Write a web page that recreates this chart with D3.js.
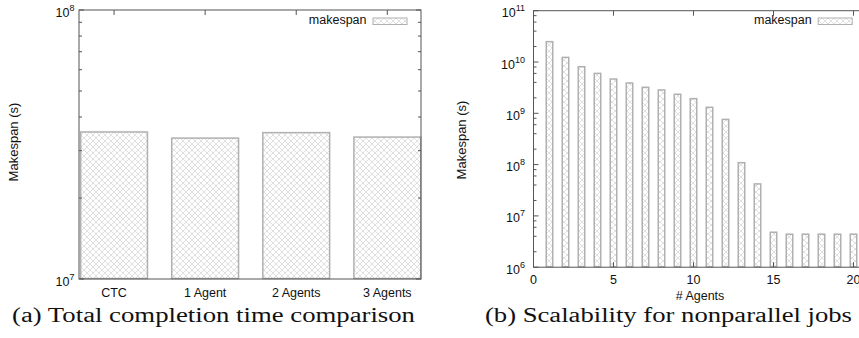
<!DOCTYPE html>
<html>
<head>
<meta charset="utf-8">
<script src="https://cdn.jsdelivr.net/npm/d3@7"></script>
<style>
  body { margin: 0; background: #fff; }
  svg { display: block; }
</style>
</head>
<body>
<svg id="chart" width="859" height="338"></svg>
<script>
// (a) total completion time
const catsA = ['CTC', '1 Agent', '2 Agents', '3 Agents'];
const makespanA = [3.52e7, 3.34e7, 3.50e7, 3.37e7];
const yTicksA = [1e7, 1e8];
const yMinorA = [2e7, 3e7, 4e7, 5e7, 6e7, 7e7, 8e7, 9e7];

// (b) scalability, nonparallel jobs
const agentsB = d3.range(1, 21);
const makespanB = [2.49e10, 1.23e10, 8.1e9, 6.0e9, 4.66e9, 3.89e9, 3.21e9, 2.85e9, 2.35e9, 1.93e9,
                   1.31e9, 7.6e8, 1.09e8, 4.2e7, 4.8e6, 4.4e6, 4.4e6, 4.4e6, 4.4e6, 4.4e6];
const yTicksB = [1e6, 1e7, 1e8, 1e9, 1e10, 1e11];
const xTicksB = [0, 5, 10, 15, 20];

const SANS = "'Liberation Sans', Arimo, Helvetica, Arial, sans-serif";
const SERIF = "'Liberation Serif', Tinos, 'Times New Roman', Times, serif";

const svg = d3.select('#chart');
const axisCol = '#555';

// crosshatch pattern
const defs = svg.append('defs');
const pat = defs.append('pattern')
  .attr('id', 'hatch')
  .attr('patternUnits', 'userSpaceOnUse')
  .attr('width', 6).attr('height', 6);
pat.append('rect').attr('width', 6).attr('height', 6).attr('fill', '#fff');
pat.append('path')
  .attr('d', 'M0,0L6,6M6,0L0,6M-1,5L1,7M5,-1L7,1M5,7L7,5M-1,1L1,-1')
  .attr('stroke', '#d2d2d2').attr('stroke-width', 0.7).attr('fill', 'none');

function label(g, x, y, txt, size, anchor) {
  return g.append('text')
    .attr('x', x).attr('y', y)
    .attr('text-anchor', anchor || 'middle')
    .attr('font-family', SANS).attr('font-size', size).attr('fill', '#111')
    .text(txt);
}

function expLabel(g, x, y, exp) {
  const t = g.append('text')
    .attr('x', x).attr('y', y).attr('text-anchor', 'end')
    .attr('font-family', SANS).attr('font-size', 12.5).attr('fill', '#111');
  t.append('tspan').text('10');
  t.append('tspan').attr('dy', -6).attr('font-size', 9).text(exp);
}

function frame(g, x0, x1, y0, y1) {
  g.append('rect')
    .attr('x', x0).attr('y', y0)
    .attr('width', x1 - x0).attr('height', y1 - y0)
    .attr('fill', 'none').attr('stroke', axisCol).attr('stroke-width', 1);
}

function yTicks(g, y, majors, minors, x0, x1) {
  const tk = (v, len) => {
    g.append('line').attr('x1', x0).attr('x2', x0 + len).attr('y1', y(v)).attr('y2', y(v))
      .attr('stroke', axisCol);
    g.append('line').attr('x1', x1).attr('x2', x1 - len).attr('y1', y(v)).attr('y2', y(v))
      .attr('stroke', axisCol);
  };
  majors.forEach(v => tk(v, 5));
  minors.forEach(v => tk(v, 3));
}

function legend(g, xEnd, y) {
  label(g, xEnd, y, 'makespan', 12.5, 'end');
  g.append('rect')
    .attr('x', xEnd + 6.5).attr('y', y - 5.5)
    .attr('width', 34).attr('height', 6.5)
    .attr('fill', 'url(#hatch)').attr('stroke', '#b0b0b0').attr('stroke-width', 1);
}

function caption(x, len, txt) {
  svg.append('text')
    .attr('x', x).attr('y', 321.5)
    .attr('textLength', len).attr('lengthAdjust', 'spacingAndGlyphs')
    .attr('font-family', SERIF).attr('font-size', 20.5).attr('fill', '#111')
    .text(txt);
}

// ---------- chart (a) ----------
{
  const g = svg.append('g');
  const L = 79, R = 421, T = 10, B = 279;
  const x = d3.scaleLinear().domain([-0.385, 3.37]).range([L, R]);
  const y = d3.scaleLog().domain([1e7, 1e8]).range([B, T]);
  const bw = x(0.75) - x(0);

  g.selectAll('.bar').data(catsA).enter().append('rect')
    .attr('class', 'bar')
    .attr('x', (d, i) => x(i) - bw / 2 + 0.75)
    .attr('width', bw - 1.5)
    .attr('y', (d, i) => y(makespanA[i]))
    .attr('height', (d, i) => B - y(makespanA[i]) - 0.5)
    .attr('fill', 'url(#hatch)').attr('stroke', '#b0b0b0').attr('stroke-width', 1.5);

  frame(g, L, R, T, B);
  yTicks(g, y, yTicksA, yMinorA, L, R);
  catsA.forEach((c, i) => {
    g.append('line').attr('x1', x(i)).attr('x2', x(i)).attr('y1', T).attr('y2', T + 5).attr('stroke', axisCol);
    label(g, x(i), 296.5, c, 12.5);
  });
  yTicksA.forEach(v => expLabel(g, 74.5, y(v) + 7, Math.round(Math.log10(v))));

  label(g, 0, 0, 'Makespan (s)', 13).attr('transform', 'translate(18,142) rotate(-90)');
  legend(g, 366.5, 23.5);
  caption(12, 403, '(a) Total completion time comparison');
}

// ---------- chart (b) ----------
{
  const g = svg.append('g');
  const L = 533.5, T = 10.7, B = 267.2;
  const x = d3.scaleLinear().domain([0, 20]).range([L, 853.5]);
  const R = x(21);
  const y = d3.scaleLog().domain([1e6, 1e11]).range([B, T]);
  const bw = x(0.5) - x(0);

  const minors = [];
  yTicksB.slice(0, -1).forEach(d => [2, 4, 6, 8].forEach(m => minors.push(d * m)));

  g.selectAll('.bar').data(agentsB).enter().append('rect')
    .attr('class', 'bar')
    .attr('x', d => x(d) - bw / 2 + 0.75)
    .attr('width', bw - 1.5)
    .attr('y', (d, i) => y(makespanB[i]))
    .attr('height', (d, i) => B - y(makespanB[i]) - 0.5)
    .attr('fill', 'url(#hatch)').attr('stroke', '#b0b0b0').attr('stroke-width', 1.5);

  frame(g, L, R, T, B);
  yTicks(g, y, yTicksB, minors, L, R);
  xTicksB.forEach(v => {
    g.append('line').attr('x1', x(v)).attr('x2', x(v)).attr('y1', B).attr('y2', B - 5).attr('stroke', axisCol);
    g.append('line').attr('x1', x(v)).attr('x2', x(v)).attr('y1', T).attr('y2', T + 5).attr('stroke', axisCol);
    label(g, x(v), 283.5, v, 12.5);
  });
  yTicksB.forEach(v => expLabel(g, 525, y(v) + 6.5, Math.round(Math.log10(v))));

  label(g, 700, 299.5, '# Agents', 12.5);
  label(g, 0, 0, 'Makespan (s)', 13).attr('transform', 'translate(466,140) rotate(-90)');
  legend(g, 811.7, 23.5);
  caption(485, 367, '(b) Scalability for nonparallel jobs');
}
</script>
</body>
</html>
